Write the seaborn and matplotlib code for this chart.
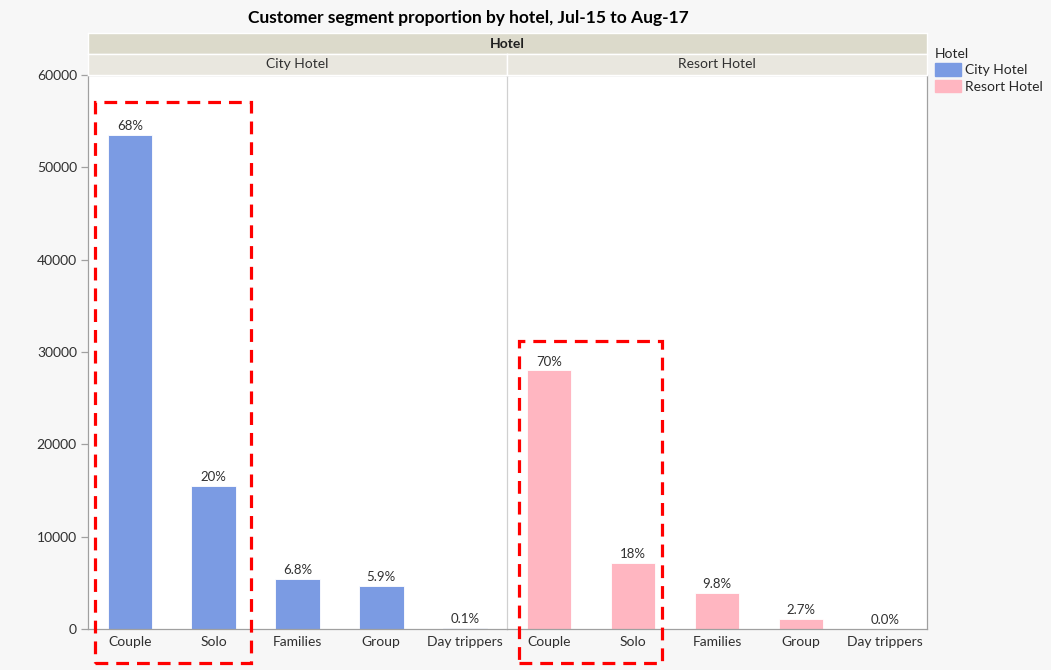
import numpy as np
import pandas as pd
import seaborn as sns
from matplotlib import pyplot as plt
from matplotlib.patches import Rectangle

# values
segments = ['Couple', 'Solo', 'Families', 'Group', 'Day trippers']
hotels = ['City Hotel', 'Resort Hotel']
city_counts = [53500, 15500, 5420, 4660, 80]
resort_counts = [28000, 7200, 3950, 1080, 10]
palette = {'City Hotel': '#7b9be3', 'Resort Hotel': '#ffb6c1'}

df = pd.DataFrame({
    'Hotel': np.repeat(hotels, len(segments)),
    'Segment': segments * 2,
    'Count': city_counts + resort_counts,
})
df['Share'] = df['Count'] / df.groupby('Hotel')['Count'].transform('sum') * 100


def pct_label(v):
    return f'{v:.0f}%' if v >= 10 else f'{v:.1f}%'


sns.set_style('white')
plt.rcParams['font.family'] = ['Lato', 'DejaVu Sans']

BG = '#f7f7f7'
GREY = '#a0a0a0'
TXT = '#303030'

fig = plt.figure(figsize=(10.51, 6.70), dpi=100, facecolor=BG)

W, H = 1051, 670


def box(x0, y0, x1, y1):
    # pixel box (top-left origin) -> figure fraction rect
    return [x0 / W, 1 - y1 / H, (x1 - x0) / W, (y1 - y0) / H]


ax_city = fig.add_axes(box(88, 75, 507, 629))
ax_resort = fig.add_axes(box(507, 75, 927, 629), sharey=ax_city)

for ax, hotel in zip([ax_city, ax_resort], hotels):
    sub = df[df['Hotel'] == hotel]
    sns.barplot(data=sub, x='Segment', y='Count', hue='Hotel', palette=palette,
                saturation=1, width=0.53, edgecolor='white', linewidth=0.6,
                legend=False, ax=ax)
    for p, share in zip(ax.patches, sub['Share']):
        ax.annotate(pct_label(share), (p.get_x() + p.get_width() / 2, p.get_height()),
                    xytext=(0, 2), textcoords='offset points', ha='center', va='bottom',
                    fontsize=9.5, color=TXT)
    ax.set_xlim(-0.5, 4.5)
    ax.set_ylim(0, 60000)
    ax.set_facecolor('white')
    ax.set_xlabel('')
    ax.set_ylabel('')
    ax.tick_params(axis='x', length=0, pad=5, labelsize=10, labelcolor=TXT)
    for s in ax.spines.values():
        s.set_color(GREY)
        s.set_linewidth(0.9)

ax_city.set_yticks(np.arange(0, 60001, 10000))
ax_city.tick_params(axis='y', direction='out', length=5, color=GREY, width=0.9,
                    labelsize=10, labelcolor=TXT, left=True, pad=3)
# light divider between the two panels
ax_city.spines['right'].set_visible(False)
ax_resort.spines['left'].set_color('#d0d0d0')
ax_resort.tick_params(axis='y', left=False, labelleft=False)

# header strips
strip_top = fig.add_axes(box(88, 33, 927, 54))
strip_top.set_facecolor('#dcdacb')
strip_top.text(0.5, 0.5, 'Hotel', ha='center', va='center', fontsize=10,
               fontweight='bold', color='#202020')
for hotel, (x0, x1) in zip(hotels, [(88, 507), (507, 927)]):
    sax = fig.add_axes(box(x0, 54, x1, 75))
    sax.set_facecolor('#e9e7df')
    sax.text(0.5, 0.5, hotel, ha='center', va='center', fontsize=10, color=TXT)
for sax in fig.axes[2:]:
    sax.set_xticks([])
    sax.set_yticks([])
    for s in sax.spines.values():
        s.set_color('white')
        s.set_linewidth(1)

fig.text(468 / W, 1 - 18 / H, 'Customer segment proportion by hotel, Jul-15 to Aug-17',
         ha='center', va='center', fontsize=12.5, fontweight='bold', color='black')

# legend
handles = [Rectangle((0, 0), 1, 1, color=palette[h]) for h in hotels]
fig.legend(handles, hotels, title='Hotel', loc='upper left',
           bbox_to_anchor=(925 / W, 1 - 38 / H), frameon=False, fontsize=10,
           title_fontsize=10, handlelength=1.9, handleheight=1.0, handletextpad=0.3,
           labelspacing=0.25, borderpad=0.2, alignment='left')

# red dashed highlight boxes around couple + solo
for ax, top in zip([ax_city, ax_resort], [57100, 31200]):
    x0 = -0.42 if ax is ax_city else -0.36
    x1 = 1.44 if ax is ax_city else 1.35
    ax.add_patch(Rectangle((x0, -3700), x1 - x0, top + 3700, fill=False,
                           edgecolor='#ff0000', linewidth=2.3, linestyle=(0, (4, 2.5)),
                           clip_on=False, zorder=5))

fig.savefig('out.png', dpi=100, facecolor=BG)
